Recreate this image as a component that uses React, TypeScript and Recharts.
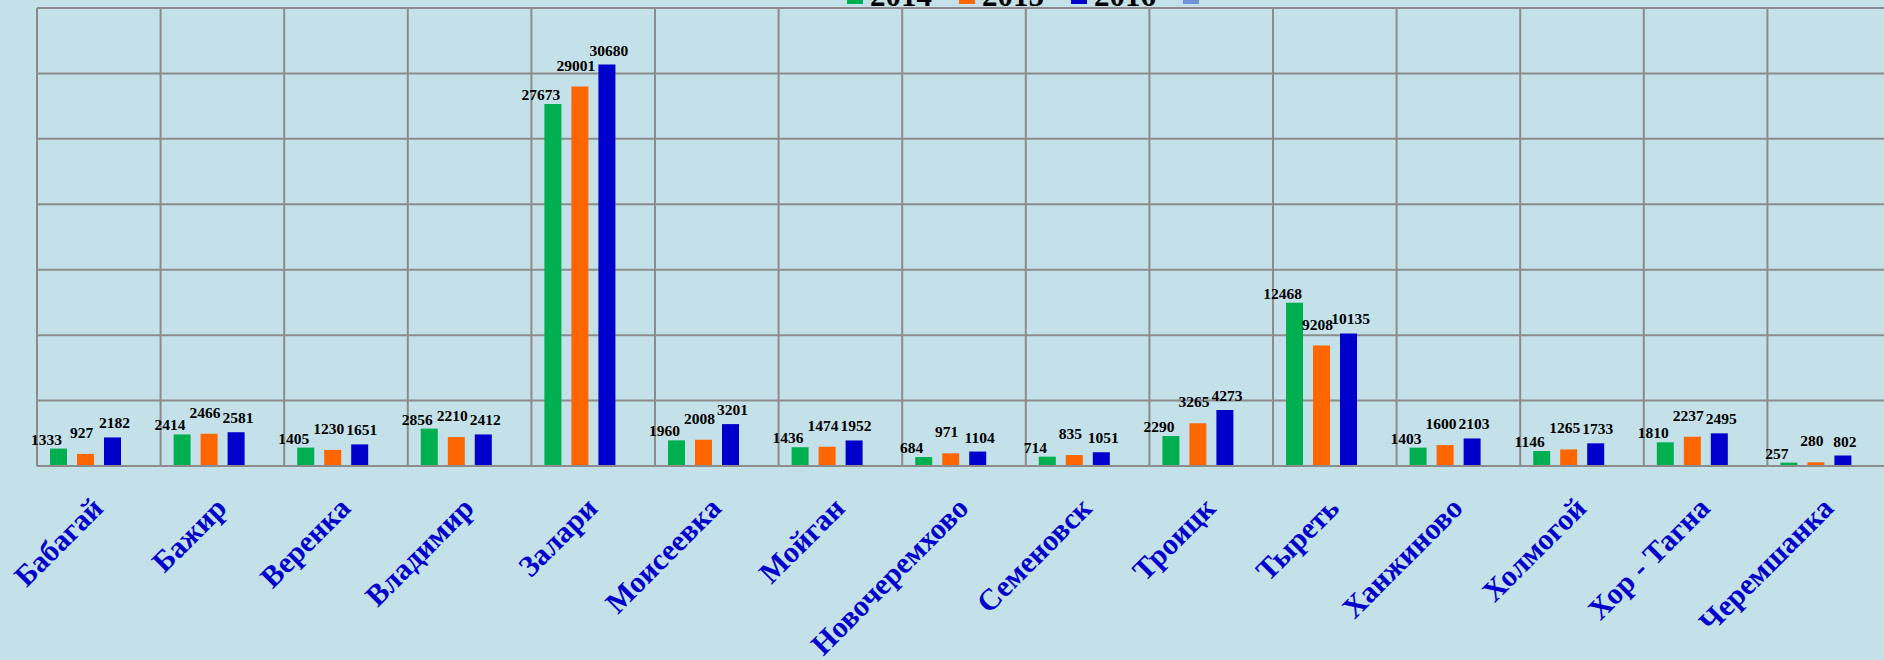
import { Bar, BarChart, CartesianGrid, LabelList, Legend, XAxis, YAxis } from "recharts";

const categories = [
  "Бабагай",
  "Бажир",
  "Веренка",
  "Владимир",
  "Залари",
  "Моисеевка",
  "Мойган",
  "Новочеремхово",
  "Семеновск",
  "Троицк",
  "Тыреть",
  "Ханжиново",
  "Холмогой",
  "Хор - Тагна",
  "Черемшанка",
];

const values2014 = [1333, 2414, 1405, 2856, 27673, 1960, 1436, 684, 714, 2290, 12468, 1403, 1146, 1810, 257];
const values2015 = [927, 2466, 1230, 2210, 29001, 2008, 1474, 971, 835, 3265, 9208, 1600, 1265, 2237, 280];
const values2016 = [2182, 2581, 1651, 2412, 30680, 3201, 1952, 1104, 1051, 4273, 10135, 2103, 1733, 2495, 802];

const yTicks = [0, 5000, 10000, 15000, 20000, 25000, 30000, 35000];

// label nudges per series (the original chart staggers them a bit)
const series = [
  { key: "y2014", name: "2014", color: "#00B050", labelDx: -12, labelOffset: 4 },
  { key: "y2015", name: "2015", color: "#FF6600", labelDx: -4, labelOffset: 16 },
  { key: "y2016", name: "2016", color: "#0000CC", labelDx: 2, labelOffset: 9 },
  { key: "extra", name: "", color: "#7092D6", labelDx: 0, labelOffset: 0 },
];

const data = categories.map((name, i) => ({
  name,
  y2014: values2014[i],
  y2015: values2015[i],
  y2016: values2016[i],
}));

const FONT = '"Liberation Serif", "Times New Roman", serif';

function CategoryTick({ x, y, payload }) {
  return (
    <text
      x={0}
      y={0}
      transform={`translate(${x + 6}, ${y + 36}) rotate(-45)`}
      textAnchor="end"
      fill="#0000CC"
      fontFamily={FONT}
      fontWeight="bold"
      fontSize={30}
    >
      {payload.value}
    </text>
  );
}

function TopLegend({ payload }) {
  const items = [...(payload || [])].sort(
    (a, b) =>
      series.findIndex((s) => s.key === a.dataKey) - series.findIndex((s) => s.key === b.dataKey)
  );
  return (
    <div style={{ display: "flex", alignItems: "center", marginLeft: 847, height: 31 }}>
      {items.map((entry) => (
        <div key={entry.dataKey} style={{ display: "flex", alignItems: "center", marginRight: 27 }}>
          <span style={{ width: 16, height: 16, background: entry.color, display: "inline-block" }} />
          <span
            style={{
              marginLeft: 7,
              fontFamily: FONT,
              fontWeight: "bold",
              fontSize: 31,
              lineHeight: 1,
              color: "#000",
              minWidth: 62,
            }}
          >
            {entry.value}
          </span>
        </div>
      ))}
    </div>
  );
}

export default function App() {
  return (
    <div
      style={{
        position: "absolute",
        left: 0,
        top: 0,
        width: 1884,
        height: 660,
        overflow: "hidden",
        background: "#C4E1E9",
      }}
    >
      <BarChart
        width={1900}
        height={660}
        data={data}
        margin={{ top: 8, right: 9, bottom: 0, left: 37 }}
        barSize={17}
        barGap={10}
      >
        <CartesianGrid
          stroke="#8C8C8C"
          strokeWidth={2}
          verticalCoordinatesGenerator={({ offset }) =>
            [...categories, ""].map((_, i) => offset.left + (i * offset.width) / categories.length)
          }
        />
        <XAxis
          dataKey="name"
          interval={0}
          tickLine={false}
          axisLine={{ stroke: "#8C8C8C", strokeWidth: 2 }}
          height={194}
          tick={<CategoryTick />}
        />
        <YAxis hide domain={[0, 35000]} ticks={yTicks} />
        <Legend
          verticalAlign="middle"
          align="center"
          wrapperStyle={{ top: -20, left: 0, width: 1884 }}
          content={<TopLegend />}
        />
        {series.map((s) => (
          <Bar key={s.key} dataKey={s.key} name={s.name} fill={s.color} isAnimationActive={false}>
            {s.key !== "extra" && (
              <LabelList
                dataKey={s.key}
                position="top"
                offset={s.labelOffset}
                dx={s.labelDx}
                fill="#000"
                fontFamily={FONT}
                fontWeight="bold"
                fontSize={15.5}
              />
            )}
          </Bar>
        ))}
      </BarChart>
    </div>
  );
}
